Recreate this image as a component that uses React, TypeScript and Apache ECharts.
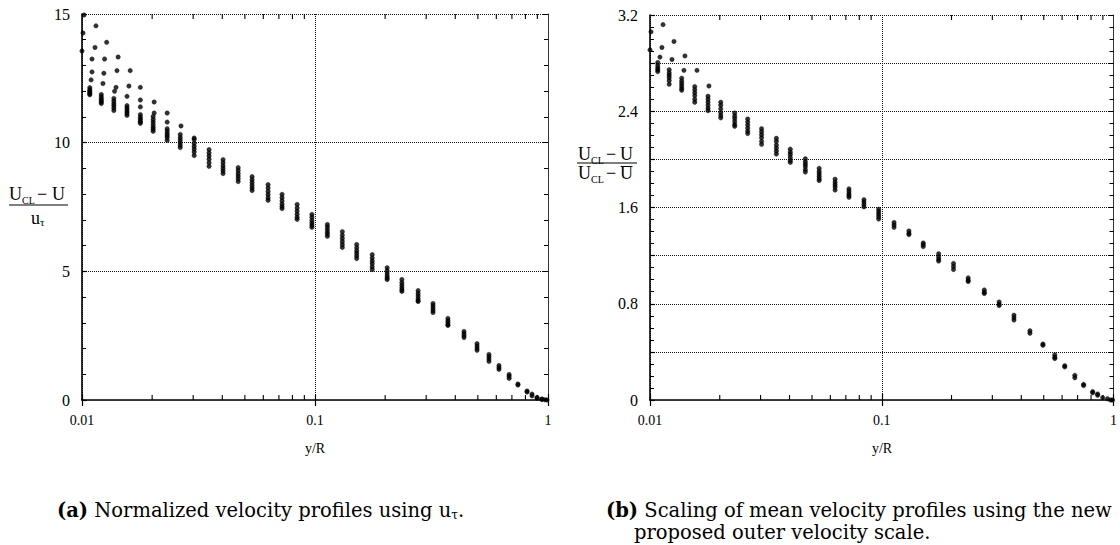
import React, { useEffect, useRef } from 'react';
import * as echarts from 'echarts';

// y/R stations shared by both panels
const xStations = [
  0.0108, 0.0121, 0.0137, 0.0156, 0.0178, 0.0202, 0.0232, 0.0264, 0.0303, 0.0351,
  0.0403, 0.0468, 0.0537, 0.0629, 0.0722, 0.0838, 0.097, 0.113, 0.131, 0.151,
  0.176, 0.204, 0.236, 0.277, 0.321, 0.372, 0.436, 0.496, 0.558, 0.616,
  0.681, 0.743, 0.813, 0.854, 0.898, 0.942, 0.971, 0.99,
];

// (a) (U_CL - U)/u_tau, values at each station (several profiles)
const leftColumns: number[][] = [
  [12.14, 12.06, 12.0, 11.95, 11.9, 11.86],
  [11.87, 11.78, 11.7, 11.64, 11.58, 11.52],
  [11.72, 11.62, 11.52, 11.44, 11.35, 11.25],
  [11.44, 11.36, 11.28, 11.2, 11.13, 11.06],
  [11.09, 11.0, 10.92, 10.85, 10.8, 10.75],
  [11.02, 10.9, 10.8, 10.7, 10.6, 10.52, 10.44],
  [10.54, 10.45, 10.36, 10.28, 10.2, 10.09],
  [10.32, 10.2, 10.1, 10.0, 9.9, 9.81],
  [10.12, 9.98, 9.86, 9.75, 9.64, 9.5],
  [9.73, 9.6, 9.48, 9.36, 9.22, 9.08],
  [9.34, 9.22, 9.1, 9.0, 8.9, 8.8],
  [9.03, 8.92, 8.8, 8.7, 8.6, 8.49],
  [8.68, 8.56, 8.45, 8.34, 8.24, 8.14],
  [8.37, 8.24, 8.1, 7.98, 7.86, 7.76],
  [7.99, 7.86, 7.74, 7.62, 7.52, 7.44],
  [7.6, 7.46, 7.34, 7.22, 7.1, 7.02],
  [7.21, 7.1, 6.98, 6.88, 6.79, 6.71],
  [6.82, 6.72, 6.62, 6.52, 6.44, 6.36],
  [6.54, 6.4, 6.28, 6.16, 6.04, 5.93],
  [6.04, 5.92, 5.8, 5.7, 5.6, 5.5],
  [5.65, 5.52, 5.4, 5.3, 5.18, 5.07],
  [5.14, 5.02, 4.92, 4.82, 4.74, 4.68],
  [4.68, 4.56, 4.46, 4.36, 4.28, 4.22],
  [4.25, 4.14, 4.04, 3.94, 3.86, 3.83],
  [3.75, 3.66, 3.57, 3.48, 3.4],
  [3.17, 3.08, 3.0, 2.92, 2.9],
  [2.66, 2.58, 2.5, 2.43],
  [2.19, 2.1, 2.01, 1.93],
  [1.77, 1.68, 1.59, 1.5],
  [1.34, 1.26, 1.19],
  [0.99, 0.92, 0.84],
  [0.62, 0.58],
  [0.35, 0.31],
  [0.23, 0.16],
  [0.1, 0.07],
  [0.04, 0.02],
  [0.01],
  [0.0],
];

// (a) near-wall points of the lower-Re profiles
const leftSparseX = [
  0.0102, 0.0101, 0.01148, 0.0100, 0.01137, 0.01276, 0.01104, 0.0125, 0.01429, 0.01104,
  0.01241, 0.01413, 0.0161, 0.01094, 0.0123, 0.014, 0.0159, 0.0178, 0.0138, 0.0156,
  0.0178, 0.0204, 0.0178, 0.0232, 0.0204, 0.0232, 0.0266, 0.0303,
];
const leftSparseY = [
  14.96, 14.26, 14.54, 13.56, 13.7, 13.9, 13.25, 13.25, 13.33, 12.75,
  12.7, 12.8, 12.8, 12.44, 12.3, 12.15, 12.2, 12.15, 12.0, 11.8,
  11.66, 11.58, 11.39, 11.15, 11.15, 10.8, 10.65, 10.18,
];

// (b) (U_CL - U)/(U_CL - Ubar), values at each station
const rightColumns: number[][] = [
  [2.805, 2.78, 2.76, 2.745, 2.73],
  [2.745, 2.72, 2.7, 2.68, 2.655, 2.625],
  [2.675, 2.65, 2.63, 2.61, 2.59, 2.575],
  [2.605, 2.58, 2.555, 2.53, 2.5, 2.475],
  [2.525, 2.5, 2.475, 2.45, 2.425, 2.405],
  [2.475, 2.45, 2.42, 2.39, 2.365, 2.345],
  [2.385, 2.36, 2.34, 2.315, 2.29, 2.275],
  [2.335, 2.31, 2.285, 2.26, 2.235, 2.215],
  [2.255, 2.23, 2.205, 2.18, 2.15, 2.125],
  [2.175, 2.15, 2.12, 2.095, 2.07, 2.045],
  [2.085, 2.06, 2.04, 2.015, 1.99, 1.975],
  [2.005, 1.98, 1.96, 1.94, 1.915, 1.895],
  [1.925, 1.9, 1.88, 1.86, 1.84, 1.825],
  [1.835, 1.81, 1.79, 1.77, 1.745],
  [1.755, 1.735, 1.715, 1.7, 1.685],
  [1.665, 1.645, 1.625, 1.605],
  [1.585, 1.565, 1.545, 1.525, 1.505],
  [1.475, 1.455, 1.435],
  [1.405, 1.385, 1.375],
  [1.305, 1.29, 1.275],
  [1.215, 1.19, 1.17, 1.155],
  [1.135, 1.11, 1.085],
  [1.015, 0.995, 0.985],
  [0.915, 0.895, 0.885],
  [0.815, 0.795, 0.785],
  [0.705, 0.685, 0.665],
  [0.575, 0.555],
  [0.465, 0.455],
  [0.375, 0.355, 0.345],
  [0.285, 0.275],
  [0.205, 0.185],
  [0.13, 0.12],
  [0.07, 0.06],
  [0.05, 0.04],
  [0.02],
  [0.01],
  [0.0],
  [0.0],
];

const rightSparseX = [0.0101, 0.01138, 0.01, 0.01126, 0.01269, 0.01104, 0.01244, 0.01415, 0.01595, 0.01401, 0.01796];
const rightSparseY = [3.06, 3.12, 2.91, 2.93, 2.98, 2.85, 2.83, 2.86, 2.74, 2.74, 2.61];

const minorTicksX = [0.02, 0.03, 0.04, 0.05, 0.06, 0.07, 0.08, 0.09, 0.2, 0.3, 0.4, 0.5, 0.6, 0.7, 0.8, 0.9];
const rightLabelledTicks = [0, 0.8, 1.6, 2.4, 3.2];

const FONT = '"Liberation Serif", "Times New Roman", serif';
const CAPFONT = '"DejaVu Serif", "Liberation Serif", serif';

function columnsToPoints(cols: number[][]) {
  const pts: number[][] = [];
  cols.forEach((ys, i) => ys.forEach((y) => pts.push([xStations[i], y])));
  return pts;
}

function pairs(xs: number[], ys: number[]) {
  return xs.map((x, i) => [x, ys[i]]);
}

function xAxisPair(gridIndex: number) {
  const common = {
    type: 'log' as const,
    logBase: 10,
    min: 0.01,
    max: 1,
    gridIndex,
  };
  return [
    {
      ...common,
      position: 'bottom',
      axisLine: { lineStyle: { color: '#000', width: 1.6 } },
      axisTick: { inside: true, length: 6, lineStyle: { color: '#000', width: 1.2 } },
      axisLabel: { color: '#000', fontFamily: FONT, fontSize: 14, margin: 13 },
      splitLine: { show: true, lineStyle: { color: '#111', type: 'dotted', width: 1 } },
      minorTick: { show: false },
    },
    {
      ...common,
      position: 'top',
      axisLine: { lineStyle: { color: '#333', width: 1 } },
      axisTick: { inside: true, length: 6, lineStyle: { color: '#000', width: 1.2 } },
      axisLabel: { show: false },
      splitLine: { show: false },
    },
  ];
}

function yAxisPair(gridIndex: number, max: number, interval: number, minorSplit: number, fmt: (v: number) => string) {
  const common = { type: 'value' as const, min: 0, max, interval, gridIndex };
  return [
    {
      ...common,
      position: 'left',
      axisLine: { show: true, lineStyle: { color: '#000', width: 1.6 } },
      axisTick: { show: true, inside: true, length: 5, lineStyle: { color: '#000', width: 1.2 } },
      minorTick: { show: true, splitNumber: minorSplit, length: 4, lineStyle: { color: '#000', width: 1 } },
      axisLabel: { color: '#000', fontFamily: FONT, fontSize: 16, margin: 12, formatter: fmt },
      splitLine: { show: true, lineStyle: { color: '#111', type: 'dotted', width: 1 } },
    },
    {
      ...common,
      position: 'right',
      axisLine: { show: true, lineStyle: { color: '#333', width: 1 } },
      axisTick: { show: true, inside: true, length: 5, lineStyle: { color: '#000', width: 1 } },
      minorTick: { show: true, splitNumber: minorSplit, length: 4, lineStyle: { color: '#000', width: 1 } },
      axisLabel: { show: false },
      splitLine: { show: false },
    },
  ];
}

function minorTickSeries(xi: number, yi: number) {
  return {
    type: 'custom',
    xAxisIndex: xi,
    yAxisIndex: yi,
    silent: true,
    clip: false,
    data: minorTicksX.map((v) => [v, 0]),
    renderItem: (params: any, api: any) => {
      const cs = params.coordSys;
      const x = api.coord([api.value(0), api.value(1)])[0];
      const style = { stroke: '#000', lineWidth: 1.1 };
      return {
        type: 'group',
        children: [
          { type: 'line', shape: { x1: x, y1: cs.y + cs.height, x2: x, y2: cs.y + cs.height - 5 }, style },
          { type: 'line', shape: { x1: x, y1: cs.y, x2: x, y2: cs.y + 5 }, style },
        ],
      };
    },
  };
}

function scatter(xi: number, yi: number, data: number[][]) {
  return {
    type: 'scatter',
    xAxisIndex: xi,
    yAxisIndex: yi,
    symbol: 'circle',
    symbolSize: 4.5,
    itemStyle: { color: '#000', borderColor: '#000', borderWidth: 0.4 },
    data,
    silent: true,
  };
}

function txt(text: string, x: number, y: number, size: number, align = 'left', weight = 'normal') {
  return {
    type: 'text',
    x,
    y,
    style: {
      text,
      fill: '#000',
      font: `${weight} ${size}px ${FONT}`,
      textAlign: align,
      textVerticalAlign: 'middle',
    },
  };
}

function line(x1: number, y1: number, x2: number, y2: number, w = 1.2) {
  return { type: 'line', shape: { x1, y1, x2, y2 }, style: { stroke: '#000', lineWidth: w } };
}

export default function App() {
  const ref = useRef<HTMLDivElement>(null);

  useEffect(() => {
    if (!ref.current) return;
    const chart = echarts.init(ref.current, undefined, { renderer: 'svg' });
    const [xa0, xa1] = xAxisPair(0);
    const [xb0, xb1] = xAxisPair(1);
    const [ya0, ya1] = yAxisPair(0, 15, 5, 5, (v: number) => String(v));
    const [yb0, yb1] = yAxisPair(1, 3.2, 0.4, 4, (v: number) =>
      rightLabelledTicks.some((t) => Math.abs(t - v) < 1e-6) ? String(Math.round(v * 10) / 10) : ''
    );

    const captionRich = {
      b: { fontWeight: 'bold', fontSize: 19.5, fontFamily: CAPFONT, lineHeight: 22 },
      n: { fontSize: 19.5, fontFamily: CAPFONT, lineHeight: 22 },
      s: { fontSize: 12, fontFamily: CAPFONT, lineHeight: 13, verticalAlign: 'bottom' },
    };

    chart.setOption({
      animation: false,
      backgroundColor: '#fff',
      textStyle: { fontFamily: FONT },
      grid: [
        { left: 82, top: 14, width: 466, height: 386 },
        { left: 650, top: 15, width: 464, height: 385 },
      ],
      xAxis: [xa0, xa1, xb0, xb1],
      yAxis: [ya0, ya1, yb0, yb1],
      series: [
        scatter(0, 0, columnsToPoints(leftColumns)),
        scatter(0, 0, pairs(leftSparseX, leftSparseY)),
        scatter(2, 2, columnsToPoints(rightColumns)),
        scatter(2, 2, pairs(rightSparseX, rightSparseY)),
        minorTickSeries(0, 0),
        minorTickSeries(2, 2),
      ],
      graphic: [
        // left y title
        txt('U', 9, 194, 18),
        txt('CL', 22, 200, 10),
        txt('\u2212', 37, 194, 18),
        txt('U', 52, 194, 18),
        line(9, 205, 68, 205),
        txt('u', 31, 218, 18),
        txt('\u03c4', 40, 222, 11),
        // right y title
        txt('U', 578, 154, 18),
        txt('CL', 591, 160, 10),
        txt('\u2212', 606, 154, 18),
        txt('U', 620, 154, 18),
        line(577, 163, 637, 163),
        txt('U', 578, 173, 18),
        txt('CL', 591, 179, 10),
        txt('\u2212', 606, 173, 18),
        txt('U', 620, 173, 18),
        line(621, 166.5, 632, 166.5, 1),
        // x titles
        txt('y/R', 315, 448, 14, 'center'),
        txt('y/R', 882, 448, 14, 'center'),
        // captions
        {
          type: 'text',
          x: 57,
          y: 510,
          style: {
            text: '{b|(a)}{n| Normalized velocity profiles using u}{s|\u03c4}{n|.}',
            rich: captionRich,
            fill: '#000',
            textVerticalAlign: 'middle',
          },
        },
        {
          type: 'text',
          x: 606,
          y: 510,
          style: {
            text: '{b|(b)}{n| Scaling of mean velocity profiles using the new}',
            rich: captionRich,
            fill: '#000',
            textVerticalAlign: 'middle',
          },
        },
        {
          type: 'text',
          x: 634,
          y: 532,
          style: {
            text: '{n|proposed outer velocity scale.}',
            rich: captionRich,
            fill: '#000',
            textVerticalAlign: 'middle',
          },
        },
      ],
    });
    return () => chart.dispose();
  }, []);

  return (
    <div
      ref={ref}
      style={{ position: 'absolute', left: 0, top: 0, width: 1120, height: 545, background: '#fff' }}
    />
  );
}
